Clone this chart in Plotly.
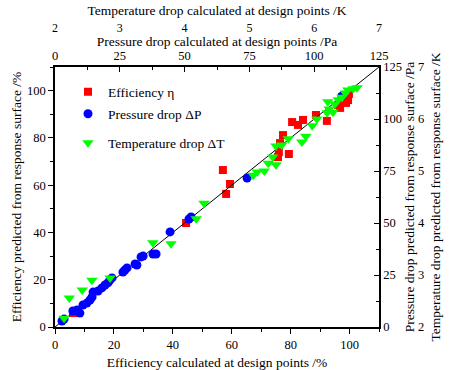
import plotly.graph_objects as go

# Efficiency (%)
eff_calc = [6.1, 44.5, 57.0, 59.4, 58.1, 77.4, 76.4, 76.0, 75.7, 79.4, 80.5, 82.5, 84.2,
            88.6, 92.3, 96.1, 96.8, 98.8, 99.5, 99.8, 97.4]
eff_pred = [5.9, 44.0, 66.4, 60.5, 56.3, 81.2, 77.8, 74.0, 71.9, 73.2, 86.7, 85.5, 87.6,
            89.7, 87.2, 93.9, 92.7, 94.8, 96.0, 98.6, 97.3]

# Pressure drop (Pa)
dp_calc = [2.7, 3.5, 6.9, 8.5, 9.6, 10.8, 12.3, 13.5, 14.3, 14.7, 16.6, 18.1, 19.3, 20.4,
           21.2, 22.0, 26.2, 27.0, 27.8, 30.9, 31.6, 33.2, 34.0, 37.8, 39.0, 44.4, 51.7,
           52.5, 74.1, 110.7]
dp_pred = [2.9, 3.8, 7.7, 8.2, 6.7, 10.6, 11.5, 13.0, 14.4, 16.8, 17.3, 18.8, 20.2, 21.2,
           22.6, 23.6, 26.4, 27.4, 28.4, 30.3, 29.8, 33.7, 34.1, 35.1, 35.1, 45.7, 51.9,
           52.9, 71.6, 111.0]

# Temperature drop (K)
dt_calc = [2.14, 2.22, 2.42, 2.57, 2.85, 3.51, 3.79, 4.18, 4.30, 5.06, 5.12, 5.23, 5.29,
           5.41, 5.36, 5.41, 5.50, 5.60, 5.81, 5.87, 5.97, 6.04, 6.20, 6.23, 6.29, 6.21,
           6.32, 6.37, 6.43, 6.48, 6.52, 6.60, 6.66]
dt_pred = [2.17, 2.56, 2.71, 2.90, 2.94, 3.62, 3.60, 4.08, 4.38, 4.92, 4.98, 5.00, 5.15,
           5.12, 5.27, 5.48, 5.50, 5.62, 5.56, 5.67, 5.87, 6.00, 6.12, 6.19, 6.13, 6.33,
           6.29, 6.37, 6.42, 6.50, 6.56, 6.58, 6.60]

diag = [0, 110]

FONT = "Liberation Serif, Times New Roman, Times, serif"
W, H = 451, 370
xdom = [55 / W, 379 / W]
ydom = [43 / H, 303 / H]

fig = go.Figure()
fig.add_trace(go.Scatter(x=eff_calc, y=eff_pred, mode="markers", name="Efficiency η",
                         marker=dict(symbol="square", size=8, color="#ff0000"),
                         xaxis="x", yaxis="y", legend="legend"))
fig.add_trace(go.Scatter(x=dp_calc, y=dp_pred, mode="markers", name="Pressure drop ΔP",
                         marker=dict(symbol="circle", size=9, color="#0000ff"),
                         xaxis="x2", yaxis="y2", legend="legend2"))
fig.add_trace(go.Scatter(x=dt_calc, y=dt_pred, mode="markers", name="Temperature drop ΔT",
                         marker=dict(symbol="triangle-down", size=10, color="#00ff00"),
                         xaxis="x3", yaxis="y3", legend="legend3"))
fig.add_trace(go.Scatter(x=diag, y=diag, mode="lines", line=dict(color="black", width=1),
                         showlegend=False, xaxis="x", yaxis="y"))

tf = dict(family=FONT, size=12.5, color="black")
tf_small = dict(family=FONT, size=12, color="black")
ttf = dict(family=FONT, size=13.5, color="black")
base = dict(showgrid=False, zeroline=False, linecolor="black", automargin=False,
            tickcolor="black")

leg = dict(font=dict(family=FONT, size=13.5, color="black"), bgcolor="rgba(0,0,0,0)",
           xanchor="left", yanchor="middle", borderwidth=0)

fig.update_layout(
    width=W, height=H, margin=dict(l=0, r=0, t=0, b=0),
    paper_bgcolor="white", plot_bgcolor="white",
    font=dict(family=FONT, color="black"),
    xaxis=dict(domain=xdom, range=[0, 110], anchor="y", side="bottom",
               showline=True, linewidth=1.5, ticks="outside", ticklen=5, tick0=0, dtick=20,
               minor=dict(dtick=10, ticks="outside", ticklen=3, tickcolor="black"),
               tickfont=tf,
               title=dict(text="Efficiency calculated at design points /%", font=ttf, standoff=8),
               **base),
    yaxis=dict(domain=ydom, range=[0, 110], anchor="x", side="left",
               showline=True, linewidth=1.5, ticks="outside", ticklen=5, tick0=0, dtick=20,
               minor=dict(dtick=10, ticks="outside", ticklen=3, tickcolor="black"),
               tickfont=tf,
               title=dict(text="Efficiency predicted from response surface /%", font=ttf, standoff=2),
               **base),
    xaxis2=dict(domain=xdom, range=[0, 125], overlaying="x", anchor="y", side="top",
                showline=True, linewidth=1.5, ticks="inside", ticklen=5, tick0=0, dtick=25,
                minor=dict(dtick=12.5, ticks="inside", ticklen=3, tickcolor="black"),
                tickfont=tf,
                title=dict(text="Pressure drop calculated at design points /Pa", font=ttf, standoff=0),
                **base),
    yaxis2=dict(domain=ydom, range=[0, 125], overlaying="y", anchor="x", side="right",
                showline=True, linewidth=1.5, ticks="inside", ticklen=5, tick0=0, dtick=25,
                minor=dict(dtick=12.5, ticks="inside", ticklen=3, tickcolor="black"),
                tickfont=tf,
                title=dict(text="Pressure drop predicted from response surface /Pa", font=ttf, standoff=4),
                **base),
    xaxis3=dict(domain=xdom, range=[2, 7], overlaying="x", anchor="free", position=1 - 34 / H,
                side="top", showline=False, ticks="", tick0=2, dtick=1,
                tickfont=tf_small,
                title=dict(text="Temperature drop calculated at design points /K", font=ttf, standoff=0),
                **base),
    yaxis3=dict(domain=ydom, range=[2, 7], overlaying="y", anchor="free", position=417 / W,
                side="right", showline=False, ticks="", tick0=2, dtick=1,
                tickfont=tf,
                title=dict(text="Temperature drop predicted from response surface /K", font=ttf, standoff=6),
                **base),
    legend=dict(x=68 / W, y=1 - 92 / H, **leg),
    legend2=dict(x=68 / W, y=1 - 114 / H, **leg),
    legend3=dict(x=68 / W, y=1 - 143 / H, **leg),
)

fig.write_html("out.html")
